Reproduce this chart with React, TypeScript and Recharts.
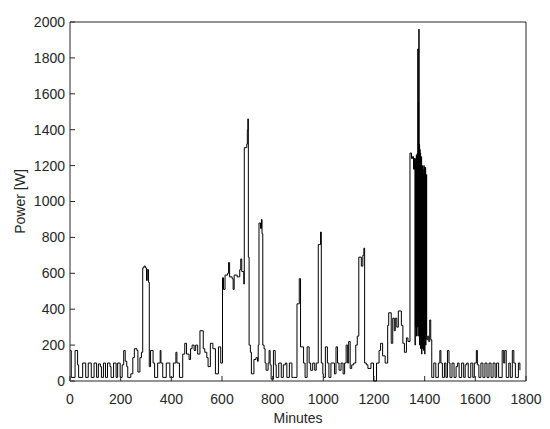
import { LineChart, Line, XAxis, YAxis, ReferenceArea } from 'recharts';

// [minute at which the level changes, power in W held from then on]
const night: [number, number][] = [
  [0, 170], [5, 20], [20, 170], [30, 90], [34, 20], [50, 100], [62, 20], [72, 100], [84, 20],
  [95, 100], [105, 20], [112, 95], [120, 80], [124, 20], [132, 100], [140, 20], [148, 100],
  [158, 80], [162, 20], [172, 100], [182, 20], [188, 100], [198, 20],
  [206, 90], [212, 170], [218, 110], [224, 80], [228, 20], [240, 40], [248, 130], [254, 180],
  [264, 170], [268, 50], [276, 130], [282, 160], [287, 630], [292, 640], [298, 630], [302, 560],
  [305, 620], [310, 550], [313, 80], [318, 170], [328, 100], [334, 20], [346, 100],
];

const morning: [number, number][] = [
  [356, 170], [359, 100], [366, 20], [380, 100], [394, 20], [408, 100], [418, 160], [422, 100],
  [432, 20], [445, 150], [453, 210], [460, 150], [470, 120], [476, 180], [482, 200], [490, 170],
  [496, 200], [504, 150], [513, 280], [526, 180], [532, 160], [540, 130], [545, 80], [554, 210],
  [564, 180], [574, 40], [586, 190], [595, 100],
];

const midday: [number, number][] = [
  [602, 575], [606, 510], [612, 590], [622, 600], [626, 660], [630, 580], [640, 570], [644, 510],
  [648, 590], [660, 580], [670, 620], [674, 680], [678, 610], [686, 540], [688, 1300], [698, 1320],
  [700, 1400], [702, 1460], [704, 690], [707, 200], [712, 160], [716, 40], [726, 120], [734, 130],
  [740, 110], [743, 200], [746, 880], [752, 850], [756, 900], [758, 820], [761, 200], [766, 180],
  [770, 100], [774, 60], [782, 100], [786, 170], [790, 90], [794, 10],
];

const afternoon: [number, number][] = [
  [803, 170], [810, 90], [814, 20], [824, 100], [834, 20], [842, 90], [850, 100], [856, 20],
  [866, 100], [876, 20], [882, 20], [896, 430], [902, 430], [905, 570], [910, 190], [922, 100],
  [928, 20], [936, 190], [944, 100], [950, 60], [958, 100], [966, 60], [972, 100], [980, 760],
  [987, 760], [989, 830], [992, 100], [998, 40],
  [1000, 20], [1008, 190], [1016, 100], [1022, 20], [1030, 100], [1038, 100], [1044, 40],
  [1050, 190], [1056, 100], [1062, 60], [1070, 100], [1078, 40], [1084, 100], [1090, 200],
  [1096, 100], [1100, 220], [1106, 70], [1112, 90], [1120, 100], [1128, 200], [1134, 250],
  [1140, 690], [1150, 640], [1156, 700], [1160, 740], [1163, 100],
];

const evening: [number, number][] = [
  [1170, 90], [1176, 70], [1188, 100], [1198, 0], [1210, 100], [1220, 170], [1226, 210],
  [1234, 140], [1244, 100], [1254, 310], [1258, 380], [1268, 210], [1274, 350], [1280, 280],
  [1284, 350], [1290, 300], [1296, 390], [1308, 310], [1314, 210], [1320, 160], [1328, 240],
  [1334, 220], [1342, 1270], [1348, 1240], [1352, 1250], [1356, 1180], [1360, 1240], [1362, 200],
  [1363, 1210], [1364, 300], [1365, 1240], [1366, 680], [1367, 1260], [1368, 250], [1369, 1230],
  [1370, 700], [1371, 1270], [1372, 300], [1373, 1850], [1374, 250], [1375, 1550], [1376, 400],
  [1377, 1960], [1378, 300], [1379, 1320], [1380, 200], [1381, 1290], [1382, 250], [1383, 1270],
  [1384, 180], [1385, 1220], [1386, 300], [1387, 1250], [1388, 150], [1389, 1190], [1390, 250],
  [1391, 1200], [1392, 180], [1393, 1180], [1394, 220], [1395, 1150], [1396, 170], [1397, 1200],
  [1398, 230], [1399, 1190], [1400, 150], [1401, 1180], [1402, 260], [1403, 1190], [1404, 200],
  [1405, 1100], [1406, 250], [1407, 1150], [1408, 230],
  [1412, 250], [1416, 220], [1420, 340], [1424, 230],
];

const lateNight: [number, number][] = [
  [1428, 20], [1436, 100], [1444, 20], [1454, 100], [1460, 170], [1464, 100], [1470, 20],
  [1478, 100], [1484, 20], [1490, 170], [1496, 100], [1500, 20], [1508, 100], [1516, 20],
  [1524, 80], [1530, 100], [1536, 20], [1546, 100], [1554, 20], [1560, 90], [1566, 100],
  [1572, 20], [1582, 100], [1590, 20], [1596, 100], [1604, 170], [1608, 90], [1614, 20],
  [1622, 100], [1630, 20], [1638, 100], [1646, 20], [1654, 100], [1662, 20], [1670, 100],
  [1678, 20], [1684, 100], [1692, 20], [1706, 170], [1712, 100], [1716, 170], [1722, 20],
  [1732, 100], [1738, 20], [1746, 170], [1752, 100], [1758, 20], [1764, 20], [1770, 100],
  [1776, 60],
];

const minuteTicks = [0, 200, 400, 600, 800, 1000, 1200, 1400, 1600, 1800];
const powerTicks = [0, 200, 400, 600, 800, 1000, 1200, 1400, 1600, 1800, 2000];

const data = [...night, ...morning, ...midday, ...afternoon, ...evening, ...lateNight].map(
  ([minute, power]) => ({ minute, power }),
);

const AXIS = '#262626';
const TICK_LEN = 5;
const X_GAP = 13;
const Y_GAP = 5;

// MATLAB style: tick marks point into the plot box
const BottomTick = ({ x, y, payload }: any) => (
  <g>
    <line x1={x} x2={x} y1={y - X_GAP} y2={y - X_GAP - TICK_LEN} stroke={AXIS} />
    <text x={x} y={y} dy="0.71em" textAnchor="middle" fill={AXIS} fontSize={14}>{payload.value}</text>
  </g>
);
const TopTick = ({ x, y }: any) => (
  <line x1={x} x2={x} y1={y} y2={y + TICK_LEN} stroke={AXIS} />
);
const LeftTick = ({ x, y, payload }: any) => (
  <g>
    <line x1={x + Y_GAP} x2={x + Y_GAP + TICK_LEN} y1={y} y2={y} stroke={AXIS} />
    <text x={x} y={y} dy="0.35em" textAnchor="end" fill={AXIS} fontSize={14}>{payload.value}</text>
  </g>
);
const RightTick = ({ x, y }: any) => (
  <line x1={x} x2={x - TICK_LEN} y1={y} y2={y} stroke={AXIS} />
);

export default function App() {
  return (
    <div
      style={{
        position: 'absolute', left: 0, top: 0, width: 550, height: 429,
        background: '#fff', fontFamily: '"Liberation Sans", Arial, Helvetica, sans-serif',
      }}
    >
      <LineChart width={550} height={429} data={data} margin={{ top: 22, right: 24, left: 0, bottom: 0 }}>
        <XAxis
          xAxisId="bottom"
          dataKey="minute"
          type="number"
          domain={[0, 1800]}
          ticks={minuteTicks}
          interval={0}
          height={48}
          axisLine={false}
          tickLine={false}
          tickSize={0}
          tickMargin={X_GAP}
          tick={<BottomTick />}
          label={{ value: 'Minutes', position: 'insideBottom', offset: 6, fill: AXIS, fontSize: 14 }}
        />
        <XAxis
          xAxisId="top"
          orientation="top"
          dataKey="minute"
          type="number"
          domain={[0, 1800]}
          ticks={minuteTicks}
          interval={0}
          height={0}
          axisLine={false}
          tickLine={false}
          tickSize={0}
          tickMargin={0}
          tick={<TopTick />}
        />
        <YAxis
          yAxisId="left"
          domain={[0, 2000]}
          ticks={powerTicks}
          interval={0}
          width={70}
          axisLine={false}
          tickLine={false}
          tickSize={0}
          tickMargin={Y_GAP}
          tick={<LeftTick />}
          label={{
            value: 'Power [W]', angle: -90, position: 'insideLeft', offset: 20,
            fill: AXIS, fontSize: 14, style: { textAnchor: 'middle' },
          }}
        />
        <YAxis
          yAxisId="right"
          orientation="right"
          domain={[0, 2000]}
          ticks={powerTicks}
          interval={0}
          width={0}
          axisLine={false}
          tickLine={false}
          tickSize={0}
          tickMargin={0}
          tick={<RightTick />}
        />
        <Line
          xAxisId="bottom"
          yAxisId="left"
          type="stepAfter"
          dataKey="power"
          stroke="#000"
          strokeWidth={1}
          dot={false}
          isAnimationActive={false}
        />
        <ReferenceArea
          xAxisId="bottom"
          yAxisId="left"
          x1={0}
          x2={1800}
          y1={0}
          y2={2000}
          fill="none"
          stroke={AXIS}
          strokeWidth={1}
        />
      </LineChart>
    </div>
  );
}
